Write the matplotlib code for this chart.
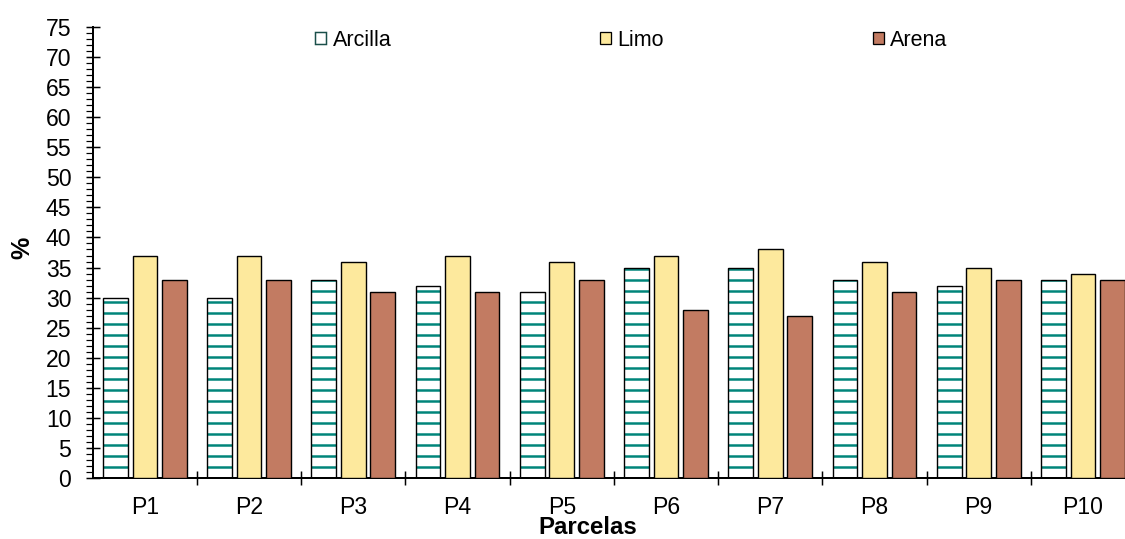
import matplotlib
matplotlib.use("Agg")
import matplotlib.pyplot as plt
from matplotlib.patches import Patch
import numpy as np

categories = ["P1", "P2", "P3", "P4", "P5", "P6", "P7", "P8", "P9", "P10"]
arcilla = [30, 30, 33, 32, 31, 35, 35, 33, 32, 33]
limo = [37, 37, 36, 37, 36, 37, 38, 36, 35, 34]
arena = [33, 33, 31, 31, 33, 28, 27, 31, 33, 33]
y_ticks = list(range(0, 80, 5))

DPI = 66
W, H = 1125, 539
PT = 72.0 / DPI  # points per pixel

plt.rcParams['font.family'] = ['Liberation Sans', 'DejaVu Sans']
plt.rcParams['hatch.linewidth'] = 2.5 * PT

fig = plt.figure(figsize=(W / DPI, H / DPI), dpi=DPI)
left, right, bottom, top = 92.75, 1135.0, 478.0, 27.0
aw, ah = right - left, bottom - top
ax = fig.add_axes([left / W, (H - bottom) / H, aw / W, ah / H])

x = np.arange(len(categories))
pitch = 0.283
width = 0.237
teal = "#00857a"
yellow = "#fde99d"
brown = "#c27b62"

ax.bar(x - pitch, arcilla, width, color="white", edgecolor=teal, hatch="-", linewidth=0, zorder=2)
ax.bar(x - pitch, arcilla, width, fill=False, edgecolor="black", linewidth=1.4 * PT, zorder=3)
ax.bar(x, limo, width, color=yellow, edgecolor="black", linewidth=1.4 * PT, zorder=3)
ax.bar(x + pitch, arena, width, color=brown, edgecolor="black", linewidth=1.4 * PT, zorder=3)

ax.set_xlim(-0.5, len(categories) - 0.5)
ax.set_ylim(0, 75)

fs_tick = 23 * PT
fs_leg = 21.5 * PT
fs_xlab = 24 * PT
fs_ylab = 25 * PT

ax.set_yticks(y_ticks)
ax.set_yticklabels([str(v) for v in y_ticks], fontsize=fs_tick)
ax.set_yticks(np.arange(0, 76, 1), minor=True)
ax.tick_params(axis='y', which='major', direction='inout', length=14 * PT, width=1.5 * PT, pad=14.5 * PT)
ax.tick_params(axis='y', which='minor', direction='out', length=7 * PT, width=1.2 * PT)

ax.set_xticks(x)
ax.set_xticklabels(categories, fontsize=fs_tick)
ax.set_xticks(x[:-1] + 0.5, minor=True)
ax.tick_params(axis='x', which='major', length=0, pad=18 * PT)
ax.tick_params(axis='x', which='minor', direction='inout', length=14 * PT, width=1.5 * PT)

for s in ['top', 'right']:
    ax.spines[s].set_visible(False)
for s in ['left', 'bottom']:
    ax.spines[s].set_linewidth(2 * PT)

ax.set_xlabel("Parcelas", fontsize=fs_xlab, fontweight='bold', va='baseline')
ax.xaxis.set_label_coords((588 - left) / aw, (bottom - 534) / ah)
ax.set_ylabel("%", fontsize=fs_ylab, fontweight='bold', va='center')
ax.yaxis.set_label_coords((22 - left) / aw, (bottom - 248) / ah)

handles = [
    Patch(facecolor="white", edgecolor="#1a4f4a", linewidth=1.5 * PT),
    Patch(facecolor=yellow, edgecolor="black", linewidth=1.3 * PT),
    Patch(facecolor=brown, edgecolor="black", linewidth=1.3 * PT),
]
fig.legend(handles, ["Arcilla", "Limo", "Arena"], loc='center left',
           bbox_to_anchor=(315 / W, (H - 40) / H), ncol=3, frameon=False,
           fontsize=fs_leg, handlelength=0.52, handleheight=0.52, handletextpad=0.3,
           columnspacing=9.7, borderpad=0, borderaxespad=0)

fig.savefig("out.png", dpi=DPI)
